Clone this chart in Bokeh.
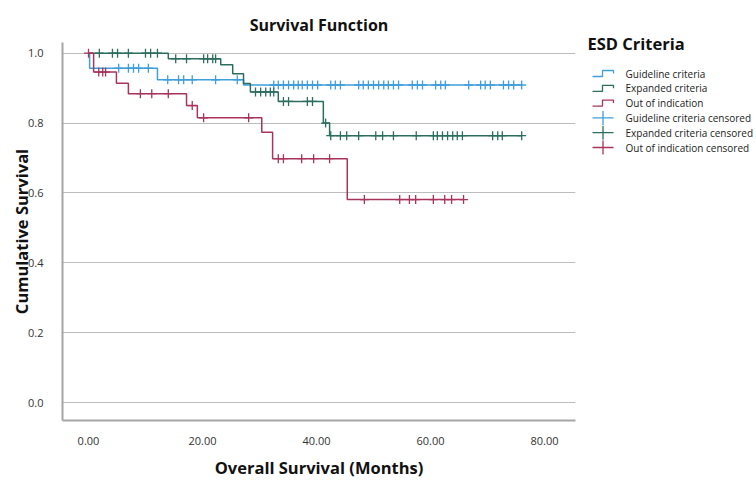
import numpy as np
from bokeh.plotting import figure
from bokeh.layouts import row
from bokeh.models import Range1d, FixedTicker, PrintfTickFormatter
from bokeh.core.properties import value
from bokeh.embed import file_html
from bokeh.resources import INLINE

# Kaplan-Meier estimates: event times (months) and survival after each event
guide_event_t = [0.2, 12.1, 27.2]
guide_event_s = [0.957, 0.924, 0.909]
guide_cens_t = [5.3, 7.0, 7.9, 8.8, 10.5, 13.9, 15.8, 16.7, 18.2, 22.3, 26.1,
                32.5, 33.3, 34.2, 35.1, 36.0, 36.8, 37.5, 38.4, 39.3, 40.2,
                42.5, 43.3, 44.2, 47.4, 48.2, 49.1, 50.0, 50.9, 51.8, 52.6,
                53.5, 54.4, 56.8, 57.7, 58.6, 60.9, 61.8, 62.6, 66.7, 68.8,
                69.6, 70.5, 72.8, 73.7, 74.6, 76.0]

exp_event_t = [14.0, 23.2, 25.3, 27.2, 28.4, 33.3, 41.2, 42.3]
exp_event_s = [0.984, 0.967, 0.941, 0.913, 0.889, 0.862, 0.800, 0.764]
exp_cens_t = [1.9, 4.2, 5.1, 7.0, 10.0, 10.9, 12.1, 15.3, 17.2, 20.2, 20.9,
              21.8, 22.3, 29.3, 30.2, 31.1, 31.9, 32.5, 34.2, 35.1, 38.4,
              39.3, 41.6, 42.5, 44.2, 45.3, 47.4, 50.4, 51.6, 53.5, 57.5,
              60.5, 61.2, 62.1, 63.0, 63.9, 64.7, 65.6, 70.9, 71.8, 72.6, 76.0]

out_event_t = [0.9, 4.9, 7.0, 17.2, 19.1, 30.4, 32.3, 45.4]
out_event_s = [0.946, 0.914, 0.884, 0.850, 0.815, 0.774, 0.698, 0.581]
out_cens_t = [0.0, 1.8, 2.5, 3.0, 9.1, 11.1, 14.0, 18.2, 20.2, 28.1, 33.3,
              34.2, 37.4, 39.5, 42.3, 48.4, 54.6, 56.3, 57.4, 60.5, 62.5,
              63.7, 65.8]

group_names = ["Guideline criteria", "Expanded criteria", "Out of indication"]
group_colors = ["#3f9fdc", "#2b6e5f", "#a8345c"]
legend_title = "ESD Criteria"
legend_labels = group_names + [g + " censored" for g in group_names]

y_ticks = [0.0, 0.2, 0.4, 0.6, 0.8, 1.0]
x_ticks = [0, 20, 40, 60, 80]

FONT = "Open Sans"
TOP, BOTTOM = 42, 64      # borders around the plotting area (px)
H = 484

groups = [
    (guide_event_t, guide_event_s, guide_cens_t),
    (exp_event_t, exp_event_s, exp_cens_t),
    (out_event_t, out_event_s, out_cens_t),
]

p = figure(width=580, height=H,
           x_range=Range1d(-4.56, 85.44), y_range=Range1d(-0.0515, 1.0306),
           output_backend="svg", toolbar_location=None,
           min_border_left=62, min_border_right=5,
           min_border_top=TOP, min_border_bottom=BOTTOM)
p.outline_line_color = None

p.title.text = "Survival Function"
p.title.align = "center"
p.title.text_font = FONT
p.title.text_font_size = "16px"
p.title.text_font_style = "bold"
p.title.text_color = "#111111"
p.title.standoff = 14

p.xgrid.visible = False
p.ygrid.grid_line_color = "#bdbdbd"
p.ygrid.grid_line_width = 1

for ax in (p.xaxis[0], p.yaxis[0]):
    ax.axis_line_color = "#a6a6a6"
    ax.axis_line_width = 2
    ax.major_tick_line_color = None
    ax.minor_tick_line_color = None
    ax.major_label_text_font = FONT
    ax.major_label_text_font_size = "11px"
    ax.major_label_text_color = "#333333"
    ax.axis_label_text_font = FONT
    ax.axis_label_text_font_size = "16.5px"
    ax.axis_label_text_font_style = "bold"
    ax.axis_label_text_color = "#111111"

p.yaxis.ticker = FixedTicker(ticks=y_ticks)
p.yaxis.formatter = PrintfTickFormatter(format="%.1f")
p.yaxis.axis_label = "Cumulative Survival"
p.yaxis.major_label_standoff = 13
p.yaxis.axis_label_standoff = -8

p.xaxis.ticker = FixedTicker(ticks=x_ticks)
p.xaxis.formatter = PrintfTickFormatter(format="%.2f")
p.xaxis.axis_label = "Overall Survival (Months)"
p.xaxis.major_label_standoff = 10
p.xaxis.axis_label_standoff = 8

for (ev_t, ev_s, cens_t), color in zip(groups, group_colors):
    ev_t = np.asarray(ev_t, dtype=float)
    levels = np.concatenate([[1.0], ev_s])
    last_t = max(max(cens_t), ev_t[-1])
    sx = np.concatenate([[0.0], ev_t, [last_t]])
    sy = np.concatenate([levels, [levels[-1]]])
    p.step(sx, sy, mode="after", line_color=color, line_width=1.5)
    ct = np.asarray(cens_t, dtype=float)
    cy = levels[np.searchsorted(ev_t, ct, side="right")]
    p.scatter(ct, cy, marker="cross", size=9, line_color=color, line_width=1.3)

# Legend panel: its plotting area shares the vertical extent of the chart,
# so the y range is expressed in page pixels measured from the top.
leg = figure(width=176, height=H,
             x_range=Range1d(0, 176), y_range=Range1d(H - BOTTOM, TOP),
             output_backend="svg", toolbar_location=None,
             min_border_left=0, min_border_right=0,
             min_border_top=TOP, min_border_bottom=BOTTOM)
leg.axis.visible = False
leg.grid.visible = False
leg.outline_line_color = None

leg.title.text = legend_title
leg.title.align = "left"
leg.title.offset = 7
leg.title.text_font = FONT
leg.title.text_font_size = "16.5px"
leg.title.text_font_style = "bold"
leg.title.text_color = "#111111"
leg.title.standoff = -24

row_y = [73 + 14.8 * i for i in range(len(legend_labels))]
for i, color in enumerate(group_colors):
    yy = row_y[i]
    leg.line([12, 22, 22, 33, 33], [yy + 3, yy + 3, yy - 3, yy - 3, yy],
             line_color=color, line_width=1.3)
    yc = row_y[i + 3]
    leg.line([12, 33], [yc, yc], line_color=color, line_width=1.3)
    leg.line([22.5, 22.5], [yc - 7, yc + 7], line_color=color, line_width=1.3)

leg.text(x=[45] * len(legend_labels), y=row_y, text=legend_labels,
         text_font=value(FONT), text_font_size="10px", text_color="#222222",
         text_baseline="middle", text_align="left")

layout = row(p, leg)
open("out.html", "w").write(file_html(layout, INLINE))
